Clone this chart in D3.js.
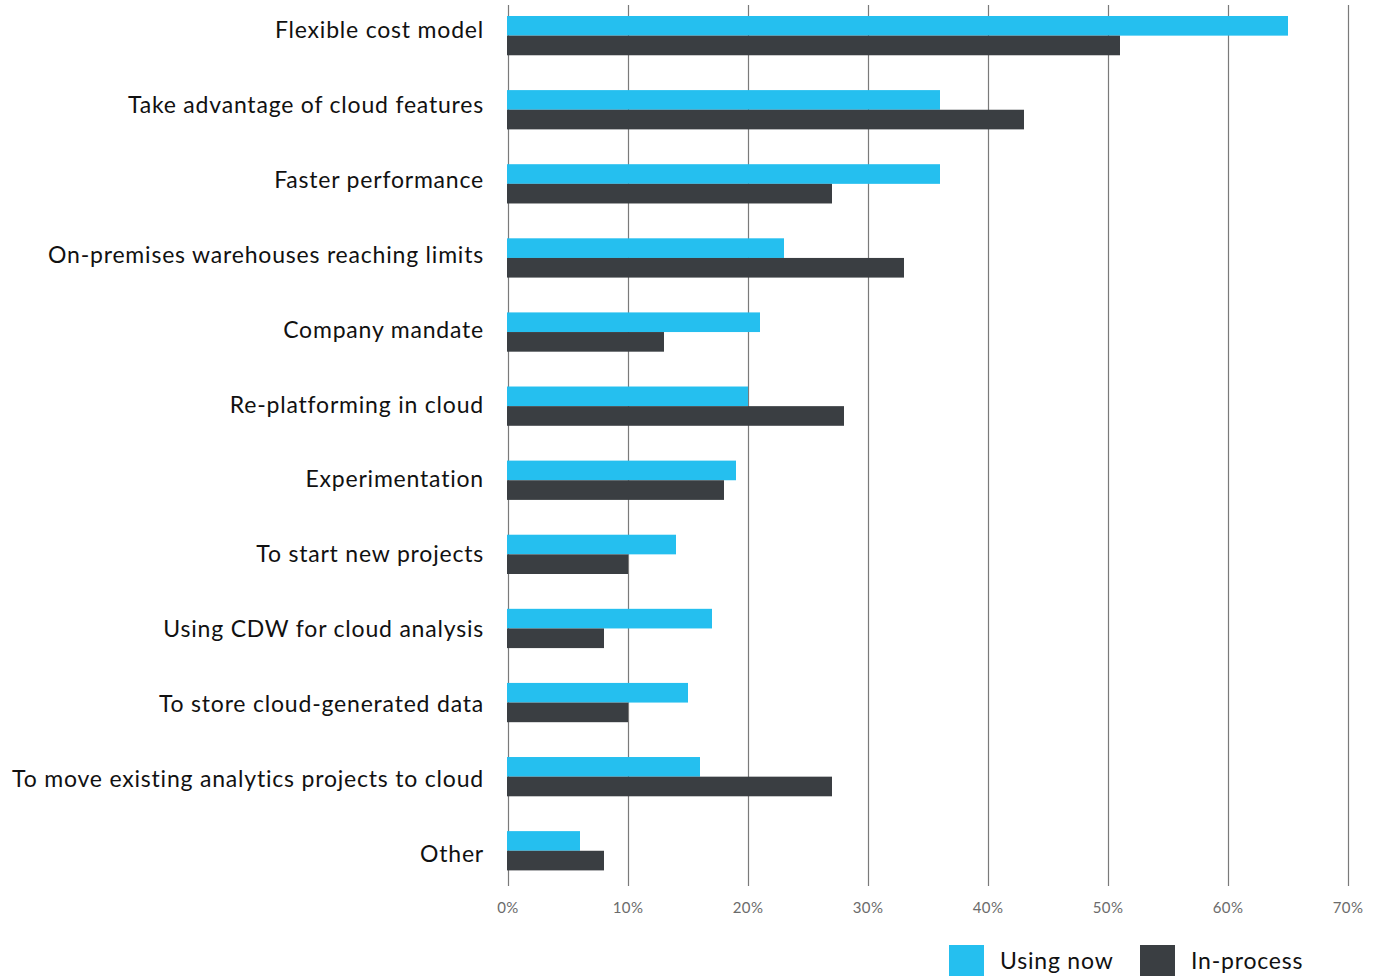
<!DOCTYPE html>
<html>
<head>
<meta charset="utf-8">
<script src="https://cdn.jsdelivr.net/npm/d3@7"></script>
<style>
  body { margin: 0; background: #fff; }
  svg { display: block; }
</style>
</head>
<body>
<svg width="1379" height="976"></svg>
<script>
// categories, top to bottom
var categories = [
	"Flexible cost model",
	"Take advantage of cloud features",
	"Faster performance",
	"On-premises warehouses reaching limits",
	"Company mandate",
	"Re-platforming in cloud",
	"Experimentation",
	"To start new projects",
	"Using CDW for cloud analysis",
	"To store cloud-generated data",
	"To move existing analytics projects to cloud",
	"Other"
];
var seriesNames = ["Using now", "In-process"];
var usingNow  = [65, 36, 36, 23, 21, 20, 19, 14, 17, 15, 16, 6];
var inProcess = [51, 43, 27, 33, 13, 28, 18, 10,  8, 10, 27, 8];
var tickValues = [0, 10, 20, 30, 40, 50, 60, 70];

var colors = { "Using now": "#25bfef", "In-process": "#3a3e42" };

var svg = d3.select("svg");
var font = "Lato, 'Noto Sans', sans-serif";

var x = d3.scaleLinear().domain([0, 70]).range([508, 1348]);

var y = d3.scaleBand()
	.domain(categories)
	.range([16, 870.4])
	.paddingInner(0.47)
	.paddingOuter(0);

var ySub = d3.scaleBand()
	.domain(seriesNames)
	.range([0, y.bandwidth()]);

// labels sit on a slightly wider spacing than the bars
var yLabel = d3.scalePoint()
	.domain(categories)
	.range([30, 854]);

// grid lines + tick labels
var grid = svg.append("g");
grid.selectAll("line")
	.data(tickValues)
	.enter().append("line")
	.attr("x1", function(d){ return Math.round(x(d)) + 0.5; })
	.attr("x2", function(d){ return Math.round(x(d)) + 0.5; })
	.attr("y1", 5)
	.attr("y2", 886)
	.attr("stroke", "#7a7a7a")
	.attr("stroke-width", 1.2);

grid.selectAll("text")
	.data(tickValues)
	.enter().append("text")
	.attr("x", function(d){ return x(d); })
	.attr("y", 913)
	.attr("text-anchor", "middle")
	.style("font-family", font)
	.style("font-size", "15px")
	.style("letter-spacing", "0.4px")
	.style("fill", "#6b6b6b")
	.text(function(d){ return d + "%"; });

// bars
var rows = categories.map(function(c, i){
	return { cat: c, values: [
		{ key: "Using now", value: usingNow[i] },
		{ key: "In-process", value: inProcess[i] }
	]};
});

var rowG = svg.selectAll(".row")
	.data(rows)
	.enter().append("g")
	.attr("class", "row")
	.attr("transform", function(d){ return "translate(0," + y(d.cat) + ")"; });

rowG.selectAll("rect")
	.data(function(d){ return d.values; })
	.enter().append("rect")
	.attr("x", x(0) - 1)
	.attr("y", function(d){ return ySub(d.key); })
	.attr("width", function(d){ return x(d.value) - x(0) + 1; })
	.attr("height", ySub.bandwidth())
	.attr("fill", function(d){ return colors[d.key]; });

svg.selectAll(".label")
	.data(categories)
	.enter().append("text")
	.attr("class", "label")
	.attr("x", 484)
	.attr("y", function(d){ return yLabel(d) + 8; })
	.attr("text-anchor", "end")
	.style("font-family", font)
	.style("font-size", "23px")
	.style("letter-spacing", "0.8px")
	.style("fill", "#111")
	.text(function(d){ return d; });

// legend
var legendX = [949, 1140];
var legend = svg.selectAll(".legend")
	.data(seriesNames)
	.enter().append("g")
	.attr("class", "legend")
	.attr("transform", function(d, i){ return "translate(" + legendX[i] + ",945)"; });

legend.append("rect")
	.attr("width", 35)
	.attr("height", 35)
	.attr("fill", function(d){ return colors[d]; });

legend.append("text")
	.attr("x", 51)
	.attr("y", 24)
	.style("font-family", font)
	.style("font-size", "23px")
	.style("letter-spacing", "0.8px")
	.style("fill", "#111")
	.text(function(d){ return d; });
</script>
</body>
</html>
